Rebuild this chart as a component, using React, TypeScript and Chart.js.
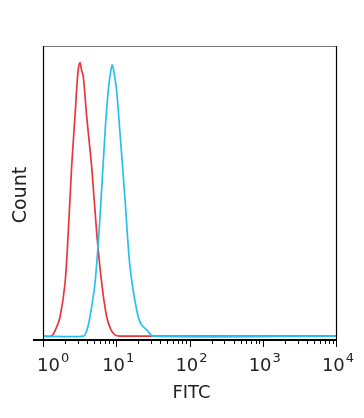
import React, { useEffect, useRef } from "react";
import { Chart, registerables } from "chart.js";

Chart.register(...registerables);

// FITC intensity (log scale) and counts (% of max scale)
const redX = [1, 1.31, 1.5, 1.71, 2.0, 2.21, 2.46, 2.73, 3.0, 3.2, 3.36, 3.55, 3.95, 4.62, 5.41, 6.33, 7.41, 8.48, 9.61, 11.2, 10000];
const redY = [1.0, 1.0, 3.5, 7.6, 19.1, 36.2, 58.7, 75.8, 91, 94.3, 91.8, 89.5, 75.9, 58.8, 36.2, 19.1, 7.6, 3.1, 1.4, 1.0, 1.0];
const blueX = [1, 3.55, 3.99, 4.38, 5.13, 6.0, 7.02, 7.79, 8.35, 8.83, 9.46, 10.1, 11.25, 13.2, 15.4, 19.0, 21.8, 26.1, 32.1, 10000];
const blueY = [1.0, 1.0, 3.1, 7.6, 19.1, 41.7, 70.3, 85.0, 91, 93.5, 90, 85, 70.3, 47.4, 24.7, 9.9, 5.1, 3.1, 1.0, 1.0];
const tickExponents = ["0", "1", "2", "3", "4"];
const xTitle = "FITC";
const yTitle = "Count";

const FONT = '"DejaVu Sans", sans-serif';

const framePlugin = {
  id: "frame",
  afterDraw(chart: any) {
    const { ctx, chartArea: a, scales } = chart;
    const xs = scales.x;
    ctx.save();
    // top border (gray)
    ctx.strokeStyle = "#7a7a7a";
    ctx.lineWidth = 1;
    ctx.beginPath();
    ctx.moveTo(a.left, a.top + 0.5);
    ctx.lineTo(a.right, a.top + 0.5);
    ctx.stroke();
    // left and right borders
    ctx.strokeStyle = "#000";
    ctx.lineWidth = 1.2;
    ctx.beginPath();
    ctx.moveTo(a.left + 0.5, a.top);
    ctx.lineTo(a.left + 0.5, a.bottom);
    ctx.moveTo(a.right + 0.5, a.top);
    ctx.lineTo(a.right + 0.5, a.bottom);
    ctx.stroke();
    // bottom axis line
    ctx.lineWidth = 2;
    ctx.beginPath();
    ctx.moveTo(a.left - 10, a.bottom + 1);
    ctx.lineTo(a.right + 1, a.bottom + 1);
    ctx.stroke();
    // ticks
    ctx.lineWidth = 1;
    for (let d = 0; d < 4; d++) {
      for (let m = 1; m <= 9; m++) {
        const v = m * Math.pow(10, d);
        const px = Math.round(xs.getPixelForValue(v)) + 0.5;
        const len = m === 1 ? 7 : 4;
        ctx.beginPath();
        ctx.moveTo(px, a.bottom + 1);
        ctx.lineTo(px, a.bottom + 1 + len);
        ctx.stroke();
      }
    }
    const pxEnd = Math.round(xs.getPixelForValue(10000)) + 0.5;
    ctx.beginPath();
    ctx.moveTo(pxEnd, a.bottom + 1);
    ctx.lineTo(pxEnd, a.bottom + 8);
    ctx.stroke();
    // tick labels
    ctx.fillStyle = "#222";
    ctx.textBaseline = "alphabetic";
    tickExponents.forEach((e, i) => {
      const v = Math.pow(10, i);
      const px = xs.getPixelForValue(v);
      ctx.font = `18px ${FONT}`;
      const w1 = ctx.measureText("10").width;
      ctx.font = `13px ${FONT}`;
      const w2 = ctx.measureText(e).width;
      const total = w1 + w2 + 1;
      let start = px + 2 - total / 2;
      if (i === 0) start = px - 6;
      ctx.font = `18px ${FONT}`;
      ctx.fillText("10", start, a.bottom + 32);
      ctx.font = `13px ${FONT}`;
      ctx.fillText(e, start + w1 + 1, a.bottom + 23);
    });
    // axis titles
    ctx.font = `18px ${FONT}`;
    ctx.textAlign = "center";
    ctx.textBaseline = "middle";
    ctx.fillText(xTitle, (a.left + a.right) / 2 + 2, a.bottom + 54);
    ctx.save();
    ctx.translate(21, 195);
    ctx.rotate(-Math.PI / 2);
    ctx.font = `19px ${FONT}`;
    ctx.fillText(yTitle, 0, 0);
    ctx.restore();
    ctx.restore();
  },
};

export default function App() {
  const ref = useRef<HTMLCanvasElement | null>(null);
  useEffect(() => {
    if (!ref.current) return;
    const chart = new Chart(ref.current, {
      type: "line",
      data: {
        datasets: [
          {
            label: "Control",
            data: redX.map((x, i) => ({ x, y: redY[i] })),
            borderColor: "#e8373a",
            borderWidth: 1.7,
            pointRadius: 0,
            tension: 0.3,
            fill: false,
            order: 1,
          },
          {
            label: "FITC",
            data: blueX.map((x, i) => ({ x, y: blueY[i] })),
            borderColor: "#29c0ef",
            borderWidth: 1.7,
            pointRadius: 0,
            tension: 0.3,
            fill: false,
            order: 0,
          },
        ],
      },
      options: {
        animation: false,
        responsive: false,
        layout: { padding: { left: 43, top: 46, right: 28, bottom: 79 } },
        plugins: { legend: { display: false }, tooltip: { enabled: false } },
        scales: {
          x: { type: "logarithmic", min: 1, max: 10000, display: false },
          y: { type: "linear", min: 0, max: 100, display: false },
        },
      },
      plugins: [framePlugin],
    });
    return () => chart.destroy();
  }, []);
  return (
    <div style={{ position: "fixed", left: 0, top: 0, width: 364, height: 418, background: "#fff" }}>
      <canvas ref={ref} width={364} height={418} style={{ width: 364, height: 418 }} />
    </div>
  );
}
